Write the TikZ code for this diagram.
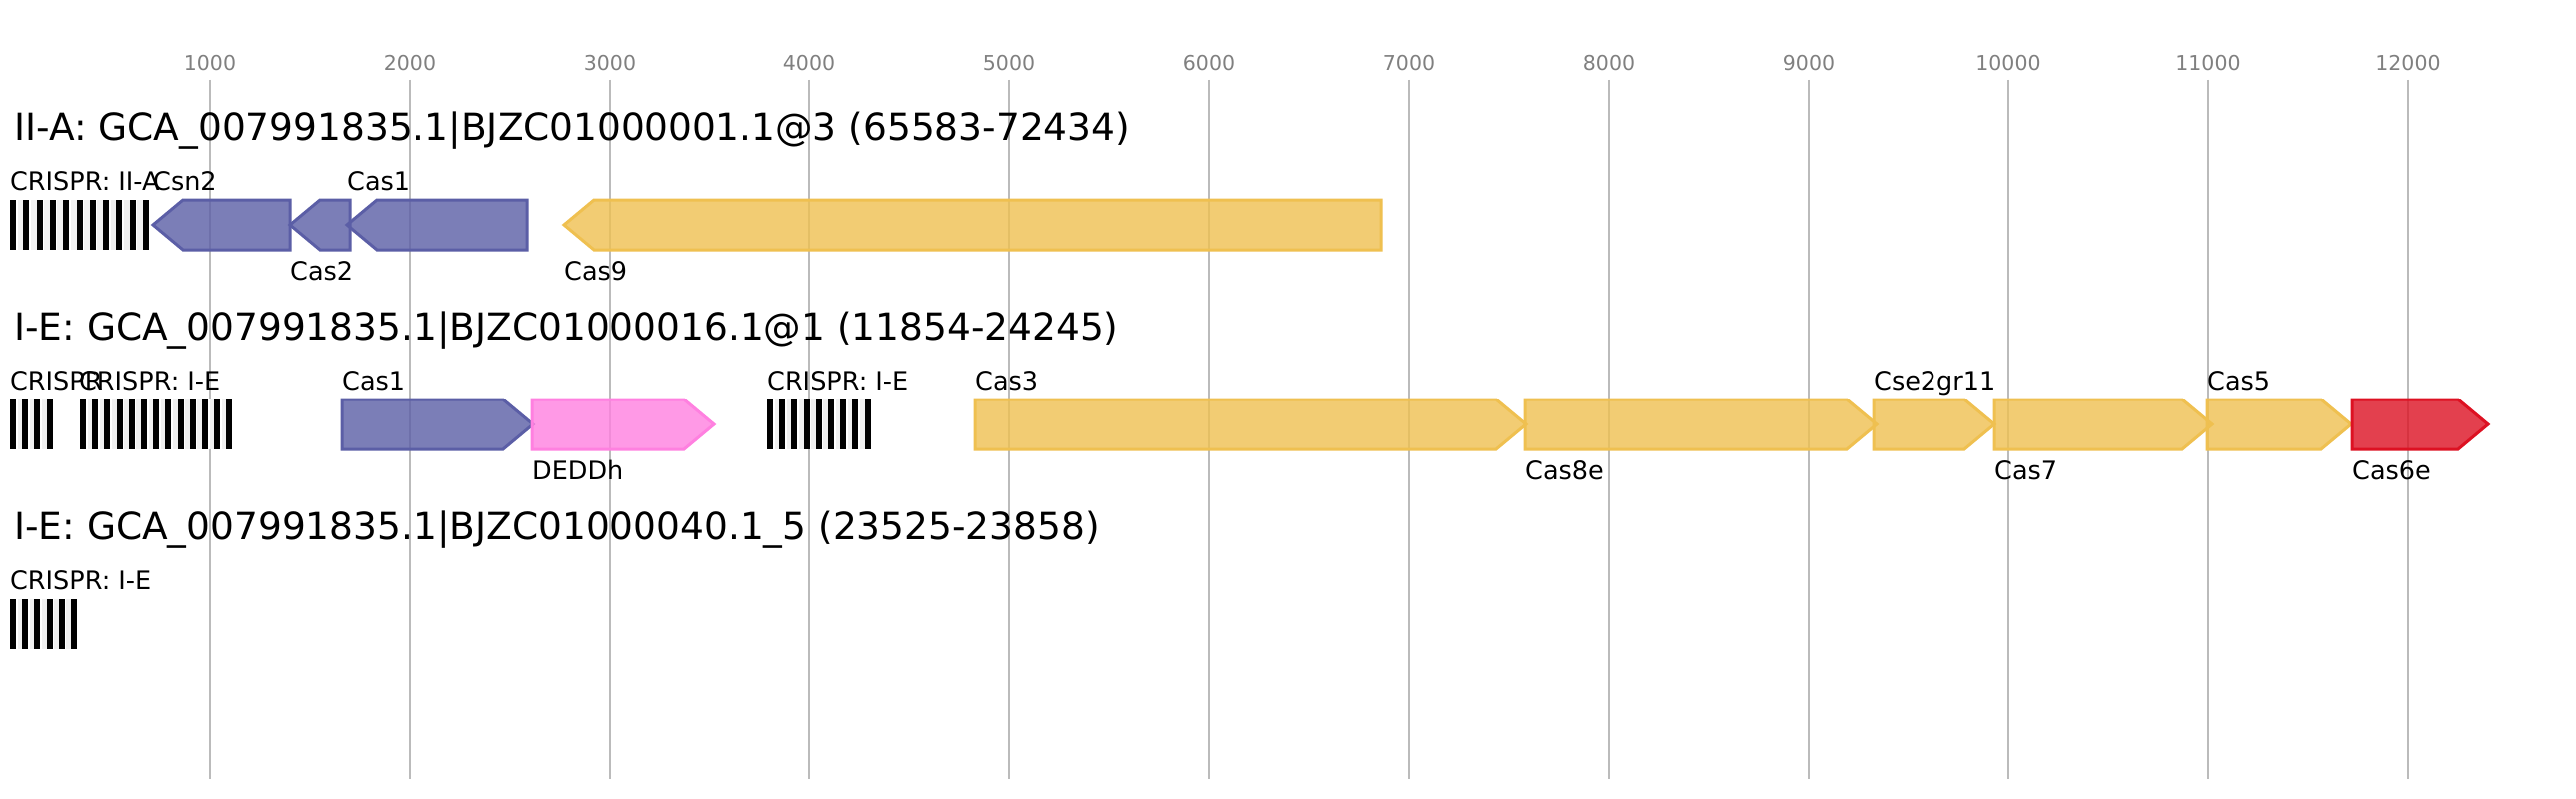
\documentclass[tikz,border=0pt]{standalone}
\usepackage{fontspec}
\setmainfont{DejaVu Sans}
\definecolor{gblue}{HTML}{5B5EA6}
\definecolor{gyellow}{HTML}{EFC050}
\definecolor{gpink}{HTML}{FF80E0}
\definecolor{gred}{HTML}{DD1122}
\definecolor{gridgray}{HTML}{BBBBBB}
\definecolor{tickgray}{HTML}{808080}
\definecolor{arraybg}{HTML}{F0F0F0}
\tikzset{
  gene/.style={line width=3pt, line join=miter, fill opacity=0.8},
  titletext/.style={anchor=base west, inner sep=0pt, font=\fontsize{37.5}{40}\selectfont},
  lab/.style={anchor=base west, inner sep=0pt, font=\fontsize{25.5}{28}\selectfont},
  ticklab/.style={anchor=base, inner sep=0pt, text=tickgray, font=\fontsize{20.5}{22}\selectfont},
  gridline/.style={draw=gridgray, line width=2pt},
}
% forward gene: x1, x2 (tip), ytop, colour
\newcommand\genefwd[4]{%
  \filldraw[gene, draw=#4, fill=#4] (#1,#3) -- ({#2-30},#3) -- (#2,{#3+25}) -- ({#2-30},{#3+50}) -- (#1,{#3+50}) -- cycle;}
% reverse gene: x1 (tip), x2, ytop, colour
\newcommand\generev[4]{%
  \filldraw[gene, draw=#4, fill=#4] (#1,{#3+25}) -- ({#1+30},#3) -- (#2,#3) -- (#2,{#3+50}) -- ({#1+30},{#3+50}) -- cycle;}
% CRISPR array: x0, ytop, n, period, bar width
\newcommand\crarr[5]{%
  \fill[arraybg] (#1,#2) rectangle ({#1+(#3-1)*#4+#5},{#2+50});
  \foreach \i in {1,...,#3} {%
    \fill[black] ({#1+(\i-1)*#4},#2) rectangle ({#1+(\i-1)*#4+#5},{#2+50});
    \ifnum\i<#3 \fill[white] ({#1+(\i-1)*#4+#5},#2) rectangle ({#1+(\i-1)*#4+#5+1.5},{#2+50});\fi
  }}
\begin{document}
\begin{tikzpicture}[x=1pt,y=-1pt]
\fill[white] (0,0) rectangle (2578,800);
\useasboundingbox (0,0) rectangle (2578,800);
% grid and ticks
\foreach \k in {1,...,12} {
  \draw[gridline] ({10+200*\k},80) -- ({10+200*\k},780);
  \node[ticklab] (tick\k) at ({10+200*\k},70.7) {\k000};
}
% titles
\node[titletext] (title1) at (14,140.7) {II-A: GCA\_007991835.1|BJZC01000001.1@3 (65583-72434)};
\node[titletext] (title2) at (14,340.7) {I-E: GCA\_007991835.1|BJZC01000016.1@1 (11854-24245)};
\node[titletext] (title3) at (14,540.7) {I-E: GCA\_007991835.1|BJZC01000040.1\_5 (23525-23858)};
% row 1
\crarr{10}{200}{11}{13.3}{6}
\generev{153}{290}{200}{gblue}
\generev{290}{350}{200}{gblue}
\generev{347}{527}{200}{gblue}
\generev{564}{1382}{200}{gyellow}
\node[lab] (r1crispr) at (10,190) {CRISPR: II-A};
\node[lab] (r1csn2) at (153,190) {Csn2};
\node[lab] (r1cas2) at (290,280) {Cas2};
\node[lab] (r1cas1) at (347,190) {Cas1};
\node[lab] (r1cas9) at (564,280) {Cas9};
% row 2
\crarr{10}{400}{4}{12.2}{6}
\crarr{80}{400}{13}{12.2}{6}
\genefwd{342}{533}{400}{gblue}
\genefwd{532}{715}{400}{gpink}
\crarr{768}{400}{9}{12.2}{6}
\genefwd{976}{1527}{400}{gyellow}
\genefwd{1526}{1878}{400}{gyellow}
\genefwd{1875}{1996}{400}{gyellow}
\genefwd{1996}{2214}{400}{gyellow}
\genefwd{2209}{2353}{400}{gyellow}
\genefwd{2354}{2490}{400}{gred}
\node[lab] (r2crispra) at (10,390) {CRISPR};
\node[lab] (r2crisprb) at (79,390) {CRISPR: I-E};
\node[lab] (r2cas1) at (342,390) {Cas1};
\node[lab] (r2deddh) at (532,480) {DEDDh};
\node[lab] (r2crisprc) at (768,390) {CRISPR: I-E};
\node[lab] (r2cas3) at (976,390) {Cas3};
\node[lab] (r2cas8e) at (1526,480) {Cas8e};
\node[lab] (r2cse2) at (1875,390) {Cse2gr11};
\node[lab] (r2cas7) at (1996,480) {Cas7};
\node[lab] (r2cas5) at (2209,390) {Cas5};
\node[lab] (r2cas6e) at (2354,480) {Cas6e};
% row 3
\crarr{10}{600}{6}{12.2}{6}
\node[lab] (r3crispr) at (10,590) {CRISPR: I-E};
\end{tikzpicture}
\end{document}
